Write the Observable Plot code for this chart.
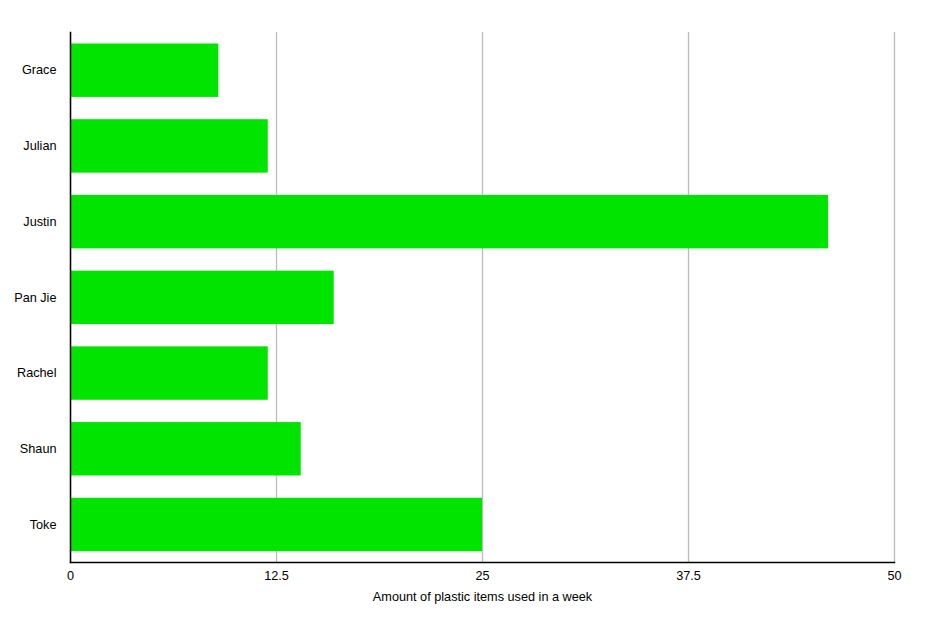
<!DOCTYPE html>
<html>
<head>
<meta charset="utf-8">
<script src="https://cdn.jsdelivr.net/npm/d3@7"></script>
<script src="https://cdn.jsdelivr.net/npm/@observablehq/plot@0.6"></script>
<style>
  html, body { margin: 0; padding: 0; background: #fff; }
  #chart svg { display: block; }
</style>
</head>
<body>
<div id="chart"></div>
<script>
const names = ["Grace", "Julian", "Justin", "Pan Jie", "Rachel", "Shaun", "Toke"];
const values = [9, 12, 46, 16, 12, 14, 25];
const xTicks = [0, 12.5, 25, 37.5, 50];
const xLabel = "Amount of plastic items used in a week";

const data = names.map((name, i) => ({name, value: values[i]}));

const chart = Plot.plot({
  width: 931,
  height: 618,
  marginLeft: 70,
  marginRight: 37,
  marginTop: 32,
  marginBottom: 56,
  style: {fontFamily: "'Liberation Sans', Arial, Helvetica, sans-serif", fontSize: "12.7px", background: "#fff", color: "#000"},
  x: {domain: [0, 50]},
  y: {domain: names, padding: 0, round: false},
  marks: [
    Plot.gridX(xTicks, {stroke: "#bbb", strokeOpacity: 1, strokeWidth: 1.3}),
    Plot.barX(data, {x: "value", y: "name", fill: "#00e400", insetTop: 11.5, insetBottom: 10.8}),
    Plot.axisX({ticks: xTicks, tickSize: 0, tickPadding: 8, tickFormat: d => String(d), label: null, fontSize: 12.7}),
    Plot.text([xLabel], {frameAnchor: "bottom", dy: 38, fontSize: 12.7, fill: "#000"}),
    Plot.axisY({tickSize: 0, tickPadding: 14, label: null, fontSize: 12.7}),
    Plot.frame({anchor: "left", stroke: "#000", strokeWidth: 1.5}),
    Plot.frame({anchor: "bottom", stroke: "#000", strokeWidth: 1.5})
  ]
});
document.getElementById("chart").appendChild(chart);
</script>
</body>
</html>
